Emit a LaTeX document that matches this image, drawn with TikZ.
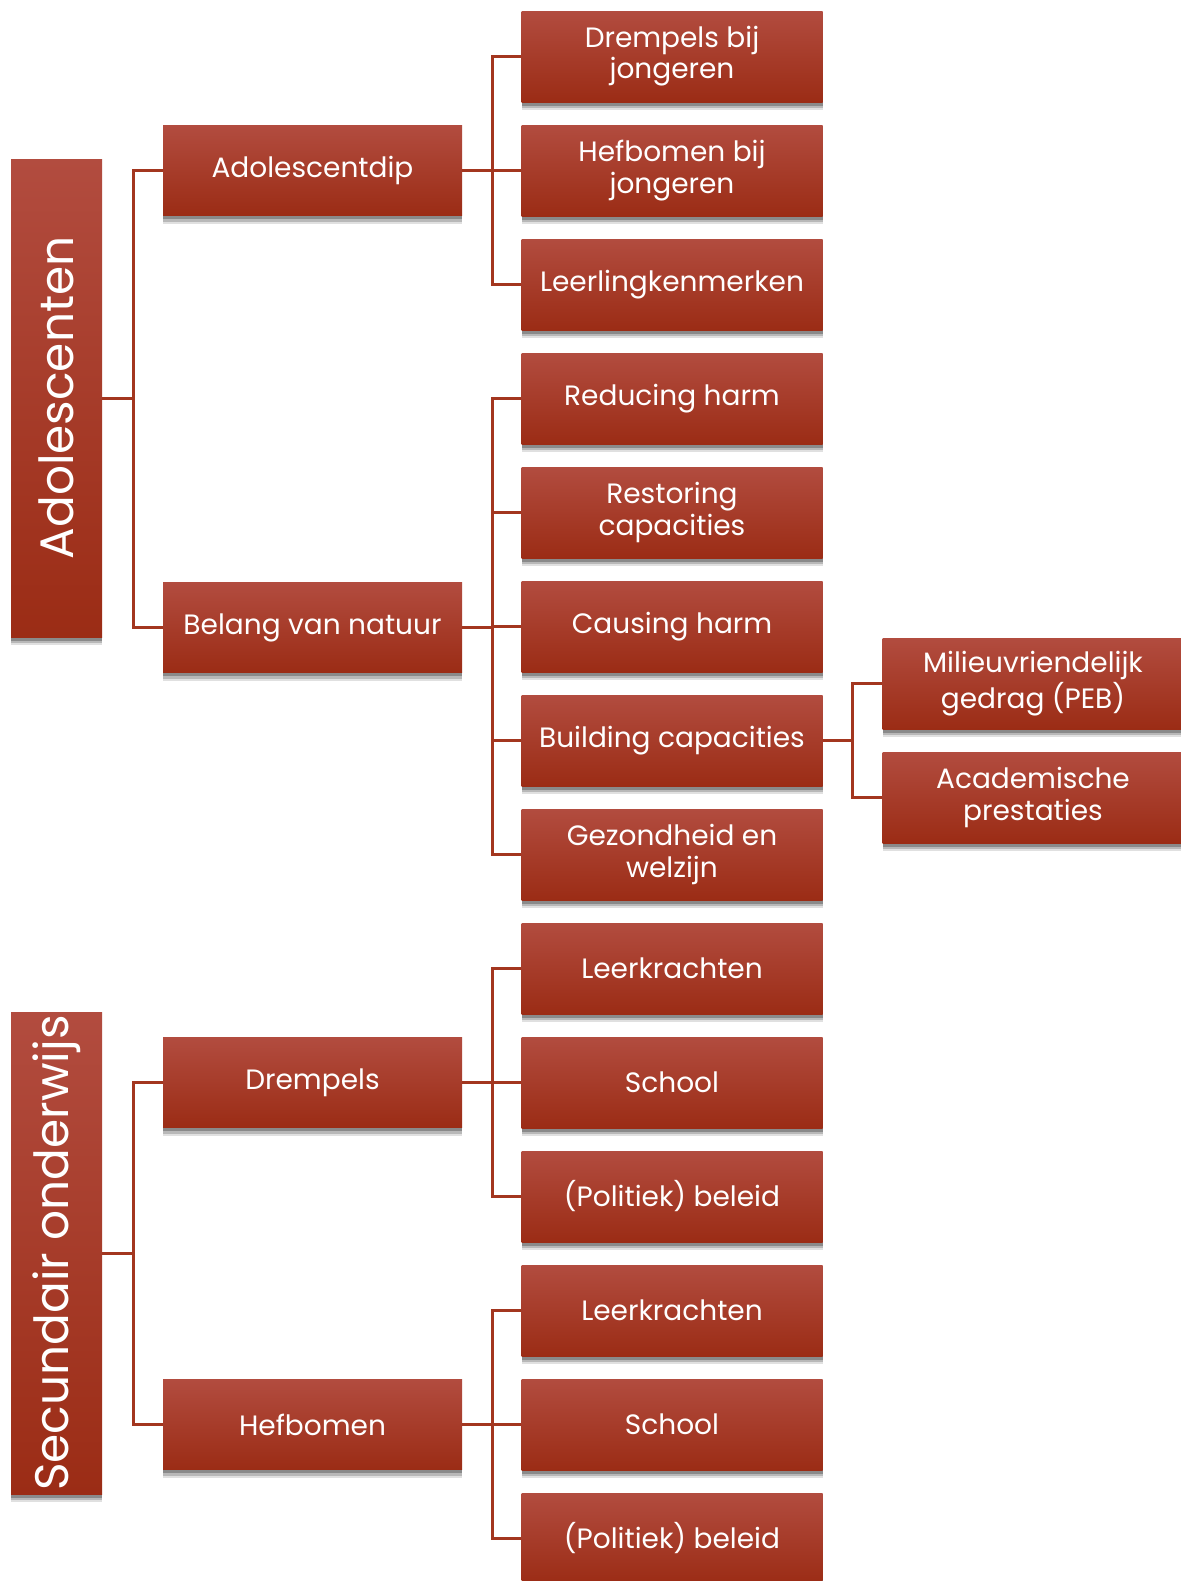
\documentclass[tikz,border=0pt]{standalone}
\usepackage{fontspec}
\setmainfont{Poppins}
\usepackage{xcolor}
\usetikzlibrary{shadows}

\definecolor{boxtop}{HTML}{B24C3F}
\definecolor{boxbot}{HTML}{9B2C15}
\definecolor{linkred}{HTML}{A3361F}

\begin{document}
\begin{tikzpicture}[x=0.5pt,y=-0.5pt,
	blok/.style={rectangle,inner sep=0pt,text=white,align=center,
		top color=boxtop,bottom color=boxbot,
		drop shadow={shadow xshift=0pt,shadow yshift=-4pt,opacity=0.12,fill=black},
		drop shadow={shadow xshift=0pt,shadow yshift=-3pt,opacity=0.18,fill=black},
		drop shadow={shadow xshift=0pt,shadow yshift=-1.8pt,opacity=0.25,fill=black},
		font=\fontsize{14}{15.6}\selectfont},
	root/.style={blok,minimum width=45.5pt,font=\fontsize{23.5}{25}\selectfont},
	mid/.style={blok,minimum width=149.5pt,minimum height=45pt},
	leaf/.style={blok,minimum width=150.5pt,minimum height=45.5pt},
	link/.style={draw=linkred,line width=1.5pt}]
	\useasboundingbox (0,0) rectangle (1180,1581);
	% roots
	\node[root,minimum height=239pt] at (56.5,398) (ado) {\rotatebox{90}{Adolescenten}};
	\node[root,minimum height=241pt] at (56.5,1253) (sec) {\rotatebox{90}{Secundair onderwijs}};
	% second level
	\node[mid] at (312.5,170.5) (dip) {Adolescentdip};
	\node[mid] at (312.5,627.5) (nat) {Belang van natuur};
	\node[mid] at (312.5,1082.5) (drem) {Drempels};
	\node[mid] at (312.5,1424.5) (hef) {Hefbomen};
	% leaves
	\node[leaf] at (672,56.5) (l1) {Drempels bij\\jongeren};
	\node[leaf] at (672,170.5) (l2) {Hefbomen bij\\jongeren};
	\node[leaf] at (672,284.5) (l3) {Leerlingkenmerken};
	\node[leaf] at (672,398.5) (l4) {Reducing harm};
	\node[leaf] at (672,512.5) (l5) {Restoring\\capacities};
	\node[leaf] at (672,626.5) (l6) {Causing harm};
	\node[leaf] at (672,740.5) (l7) {Building capacities};
	\node[leaf] at (672,854.5) (l8) {Gezondheid en\\welzijn};
	\node[leaf] at (672,968.5) (l9) {Leerkrachten};
	\node[leaf] at (672,1082.5) (l10) {School};
	\node[leaf] at (672,1196.5) (l11) {(Politiek) beleid};
	\node[leaf] at (672,1310.5) (l12) {Leerkrachten};
	\node[leaf] at (672,1424.5) (l13) {School};
	\node[leaf] at (672,1538.5) (l14) {(Politiek) beleid};
	% third level
	\node[leaf] at (1033,683.5) (peb) {Milieuvriendelijk\\gedrag (PEB)};
	\node[leaf] at (1033,797.5) (acad) {Academische\\prestaties};

	\foreach \a/\b in {ado/dip,ado/nat,sec/drem,sec/hef}
		\draw[link] (\a.east) -- ++(31,0) |- (\b.west);
	\foreach \a/\b in {dip/l1,dip/l2,dip/l3,nat/l4,nat/l5,nat/l6,nat/l7,nat/l8,
		drem/l9,drem/l10,drem/l11,hef/l12,hef/l13,hef/l14,l7/peb,l7/acad}
		\draw[link] (\a.east) -- ++(30,0) |- (\b.west);
\end{tikzpicture}
\end{document}
